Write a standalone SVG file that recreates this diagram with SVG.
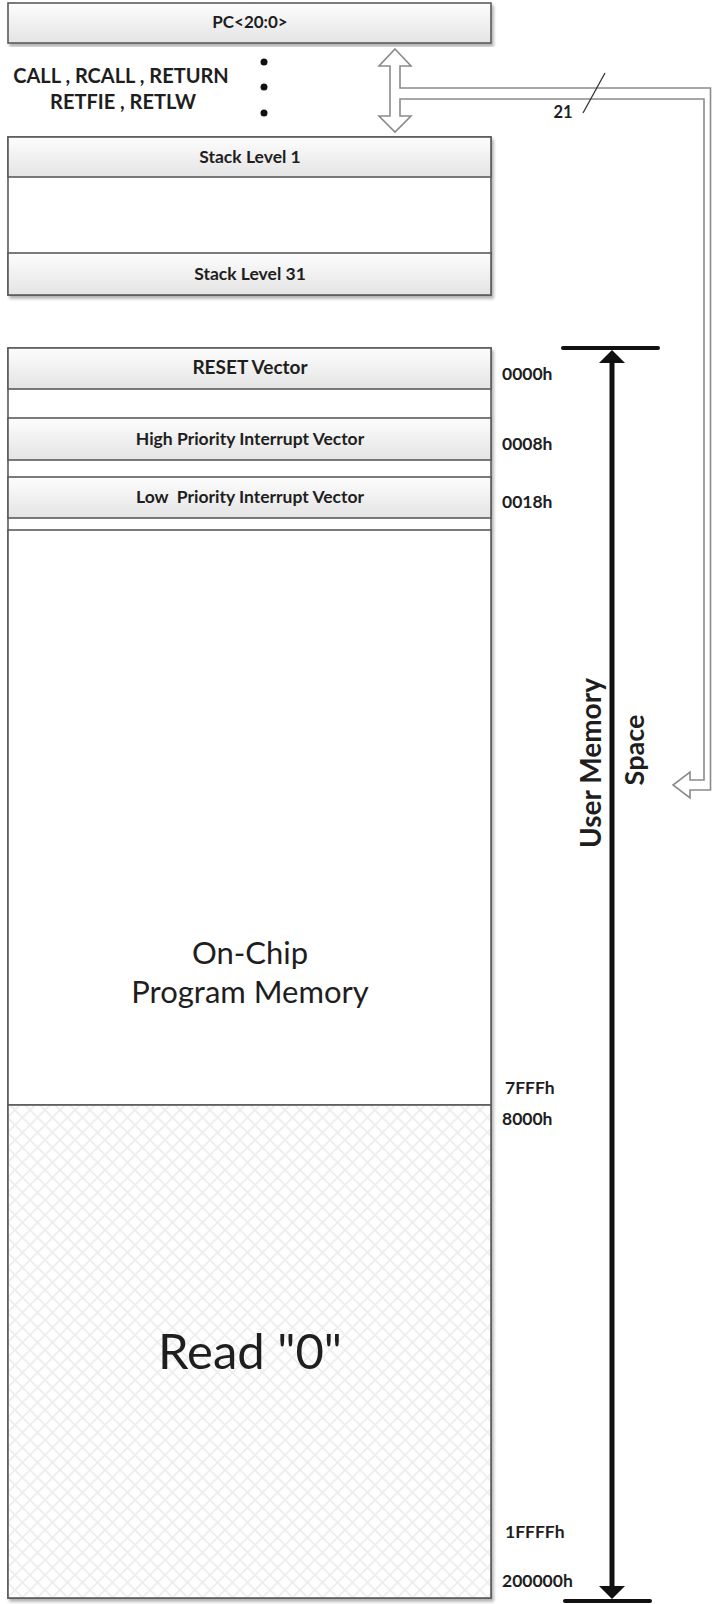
<svg xmlns="http://www.w3.org/2000/svg" width="712" height="1604" viewBox="0 0 712 1604">
<style>
.box{stroke:#5a5a5a;stroke-width:1.6;}
.hdr{fill:url(#hg);stroke:#5a5a5a;stroke-width:1.6;}
.t{font-family:Lato,"Liberation Sans",sans-serif;fill:#1e1e1e;text-anchor:middle;}
.b{font-weight:bold;}
.addr{font-family:Lato,"Liberation Sans",sans-serif;font-weight:bold;font-size:17.5px;fill:#1e1e1e;}
</style>
<defs>
<linearGradient id="hg" x1="0" y1="0" x2="0" y2="1">
<stop offset="0" stop-color="#fdfdfd"/>
<stop offset="1" stop-color="#e4e4e4"/>
</linearGradient>
<filter id="sh" x="-5%" y="-5%" width="110%" height="115%">
<feDropShadow dx="2" dy="3" stdDeviation="1.5" flood-color="#000" flood-opacity="0.3"/>
</filter>
<pattern id="hatch" patternUnits="userSpaceOnUse" width="15" height="15">
<rect width="15" height="15" fill="#ffffff"/>
<path d="M0,0 L15,15 M15,0 L0,15" stroke="#eeeeee" stroke-width="1.8"/>
</pattern>
</defs>
<rect width="712" height="1604" fill="#ffffff"/>

<g id="pc">
<rect class="hdr" x="8" y="3" width="483" height="40" filter="url(#sh)"/>
<text class="t b" x="250" y="28" font-size="17">PC&lt;20:0&gt;</text>
</g>

<g id="call-label">
<text class="t b" x="121" y="83" font-size="20">CALL , RCALL , RETURN</text>
<text class="t b" x="123" y="109" font-size="20">RETFIE , RETLW</text>
<circle cx="264" cy="62" r="3.5" fill="#111"/>
<circle cx="264" cy="87" r="3.5" fill="#111"/>
<circle cx="264" cy="113" r="3.5" fill="#111"/>
</g>

<g id="stack">
<rect class="box" x="8" y="137" width="483" height="158" fill="#fff" filter="url(#sh)"/>
<rect class="hdr" x="8" y="137" width="483" height="40"/>
<rect class="hdr" x="8" y="253" width="483" height="42"/>
<text class="t b" x="250" y="163" font-size="17.5">Stack Level 1</text>
<text class="t b" x="250" y="280" font-size="17.5">Stack Level 31</text>
</g>

<g id="memory">
<rect class="box" x="8" y="348" width="483" height="1250" fill="#fff" filter="url(#sh)"/>
<g id="reset">
<rect class="hdr" x="8" y="348" width="483" height="41"/>
<text class="t b" x="250" y="374" font-size="19">RESET Vector</text>
</g>
<g id="high">
<rect class="hdr" x="8" y="418" width="483" height="42"/>
<text class="t b" x="250" y="445" font-size="17.5">High Priority Interrupt Vector</text>
</g>
<g id="low">
<rect class="hdr" x="8" y="477" width="483" height="41"/>
<text class="t b" x="250" y="503" font-size="17.5" style="white-space:pre">Low  Priority Interrupt Vector</text>
</g>
<g id="onchip">
<rect class="box" x="8" y="530" width="483" height="575" fill="#fff"/>
<text class="t" x="250" y="964" font-size="31">On-Chip</text>
<text class="t" x="250" y="1003" font-size="31">Program Memory</text>
</g>
<g id="read0">
<rect class="box" x="8" y="1105" width="483" height="493" fill="url(#hatch)"/>
<text class="t" x="250" y="1369" font-size="49">Read "0"</text>
</g>
</g>

<g id="addresses">
<text class="addr" x="502" y="380">0000h</text>
<text class="addr" x="502" y="450">0008h</text>
<text class="addr" x="502" y="508">0018h</text>
<text class="addr" x="505" y="1094">7FFFh</text>
<text class="addr" x="502" y="1125">8000h</text>
<text class="addr" x="505" y="1538">1FFFFh</text>
<text class="addr" x="502" y="1587">200000h</text>
</g>

<g id="connectors">
<path d="M395,49 L411,66 L400,66 L400,88 L710.5,88 L710.5,790 L690,790 L690,798 L673,785 L690,772 L690,780 L704,780 L704,99 L400,99 L400,116 L411,116 L395,132 L379,116 L390,116 L390,66 L379,66 Z" fill="#fff" stroke="#8a8a8a" stroke-width="1.6" stroke-linejoin="miter"/>
<line x1="583" y1="113" x2="605" y2="73" stroke="#333" stroke-width="1.3"/>
<text class="t b" x="563" y="118" font-size="16.5">21</text>
<g id="user-space-arrow">
<line x1="563" y1="348" x2="658" y2="348" stroke="#111" stroke-width="4" stroke-linecap="round"/>
<line x1="565" y1="1601" x2="650" y2="1601" stroke="#111" stroke-width="4" stroke-linecap="round"/>
<line x1="612" y1="358" x2="612" y2="1590" stroke="#111" stroke-width="5"/>
<polygon points="612,350 625,363 599,363" fill="#111"/>
<polygon points="612,1599 625,1586 599,1586" fill="#111"/>
</g>
</g>

<g id="user-memory-label">
<text class="t b" transform="translate(601,763) rotate(-90)" font-size="28">User Memory</text>
<text class="t b" transform="translate(644,750) rotate(-90)" font-size="27">Space</text>
</g>
</svg>
